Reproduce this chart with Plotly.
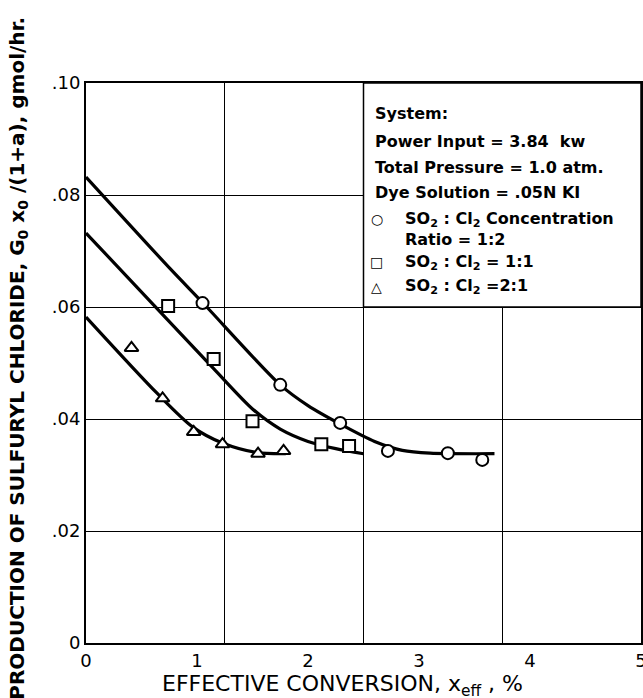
import plotly.graph_objects as go

# ---- data ----
circle_x = [1.05, 1.75, 2.29, 2.72, 3.26, 3.57]
circle_y = [0.0607, 0.0461, 0.0393, 0.0343, 0.0339, 0.0327]
square_x = [0.74, 1.15, 1.50, 2.12, 2.37]
square_y = [0.0602, 0.0507, 0.0396, 0.0355, 0.0352]
tri_x = [0.41, 0.69, 0.97, 1.23, 1.55, 1.78]
tri_y = [0.0527, 0.0437, 0.0377, 0.0355, 0.0338, 0.0343]

# smooth fitted curves
circle_curve_x = [0, 0.76, 1.05, 1.75, 2.0, 2.3, 2.6, 2.85, 3.1, 3.68]
circle_curve_y = [0.0832, 0.0668, 0.0608, 0.0461, 0.0424, 0.0390, 0.0360, 0.0344, 0.0339, 0.0338]
square_curve_x = [0, 0.67, 1.15, 1.5, 1.75, 2.0, 2.25, 2.5]
square_curve_y = [0.0732, 0.0591, 0.0490, 0.0418, 0.0382, 0.0360, 0.0347, 0.0338]
tri_curve_x = [0, 0.64, 0.96, 1.23, 1.54, 1.8]
tri_curve_y = [0.0582, 0.0446, 0.0386, 0.0357, 0.0340, 0.0338]

x_ticks = [0, 1, 2, 3, 4, 5]
x_ticklabels = ["0", "1", "2", "3", "4", "5"]
x_grid = [1.25, 2.5, 3.75]
y_ticks = [0, 0.02, 0.04, 0.06, 0.08, 0.10]
y_ticklabels = ["0", ".02", ".04", ".06", ".08", ".10"]

box_lines = [
    "System:",
    "Power Input = 3.84  kw",
    "Total Pressure = 1.0 atm.",
    "Dye Solution = .05N KI",
]
legend_glyphs = ["○", "", "□", "△"]
legend_texts = [
    "SO<sub>2</sub> : Cl<sub>2</sub> Concentration",
    "Ratio = 1:2",
    "SO<sub>2</sub> : Cl<sub>2</sub> = 1:1",
    "SO<sub>2</sub> : Cl<sub>2</sub> =2:1",
]

FONT = "DejaVu Sans"
fig = go.Figure()

for cx, cy in [(circle_curve_x, circle_curve_y), (square_curve_x, square_curve_y), (tri_curve_x, tri_curve_y)]:
    fig.add_trace(go.Scatter(x=cx, y=cy, mode="lines",
                             line=dict(color="black", width=3.2, shape="spline", smoothing=0.8),
                             hoverinfo="skip", showlegend=False))

for mx, my, sym in [(circle_x, circle_y, "circle"), (square_x, square_y, "square"), (tri_x, tri_y, "triangle-up")]:
    fig.add_trace(go.Scatter(x=mx, y=my, mode="markers",
                             marker=dict(symbol=sym, size=12, color="white",
                                         line=dict(color="black", width=2)),
                             showlegend=False))

# legend / info box
fig.add_shape(type="rect", xref="x", yref="y", x0=2.5, x1=5.0, y0=0.06, y1=0.10,
              fillcolor="white", line=dict(color="black", width=1.5), layer="above")

box_y = [0.0946, 0.0895, 0.0850, 0.0804]
for t, yy in zip(box_lines, box_y):
    fig.add_annotation(x=2.585, y=yy, xref="x", yref="y", text="<b>" + t + "</b>", showarrow=False,
                       xanchor="left", yanchor="middle",
                       font=dict(family=FONT, size=16, color="black"))
leg_y = [0.0757, 0.0721, 0.0680, 0.0636]
for g, t, yy in zip(legend_glyphs, legend_texts, leg_y):
    if g:
        fig.add_annotation(x=2.62, y=yy, xref="x", yref="y", text="<b>" + g + "</b>", showarrow=False,
                           xanchor="center", yanchor="middle",
                           font=dict(family=FONT, size=14, color="black"))
    fig.add_annotation(x=2.86, y=yy, xref="x", yref="y", text="<b>" + t + "</b>", showarrow=False,
                       xanchor="left", yanchor="middle",
                       font=dict(family=FONT, size=16, color="black"))

# axis titles
fig.add_annotation(x=-0.124, y=0.508, xref="paper", yref="paper", textangle=-90,
                   text="<b>PRODUCTION OF SULFURYL CHLORIDE, G<sub>0</sub> x<sub>0</sub> /(1+a), gmol/hr.</b>",
                   showarrow=False, xanchor="center", yanchor="middle",
                   font=dict(family=FONT, size=20, color="black"))
fig.add_annotation(x=0.463, y=-0.076, xref="paper", yref="paper",
                   text="EFFECTIVE CONVERSION, x<sub>eff</sub> , %",
                   showarrow=False, xanchor="center", yanchor="middle",
                   font=dict(family=FONT, size=22, color="black"))

fig.update_layout(
    width=643, height=698,
    margin=dict(l=86, r=2, t=83, b=55, autoexpand=False),
    paper_bgcolor="white", plot_bgcolor="white",
    font=dict(family=FONT, color="black"),
    xaxis=dict(range=[0, 5], tickvals=x_ticks, ticktext=x_ticklabels,
               showgrid=False, zeroline=False, showline=True, linecolor="black",
               linewidth=2, mirror=True, ticks="", automargin=False,
               ticklabeloverflow="allow",
               tickfont=dict(size=18, family=FONT),
               minor=dict(tickvals=x_grid, showgrid=True, gridcolor="black", gridwidth=1.2,
                          ticks="")),
    yaxis=dict(range=[0, 0.10], tickvals=y_ticks, ticktext=y_ticklabels,
               showgrid=True, gridcolor="black", gridwidth=1.2, automargin=False,
               zeroline=False, showline=True, linecolor="black", linewidth=2,
               mirror=True, ticks="", tickfont=dict(size=18, family=FONT)),
)

fig.write_html("out.html", config={"displayModeBar": False},
               post_script="document.body.style.margin='0';document.body.style.overflow='hidden';")
